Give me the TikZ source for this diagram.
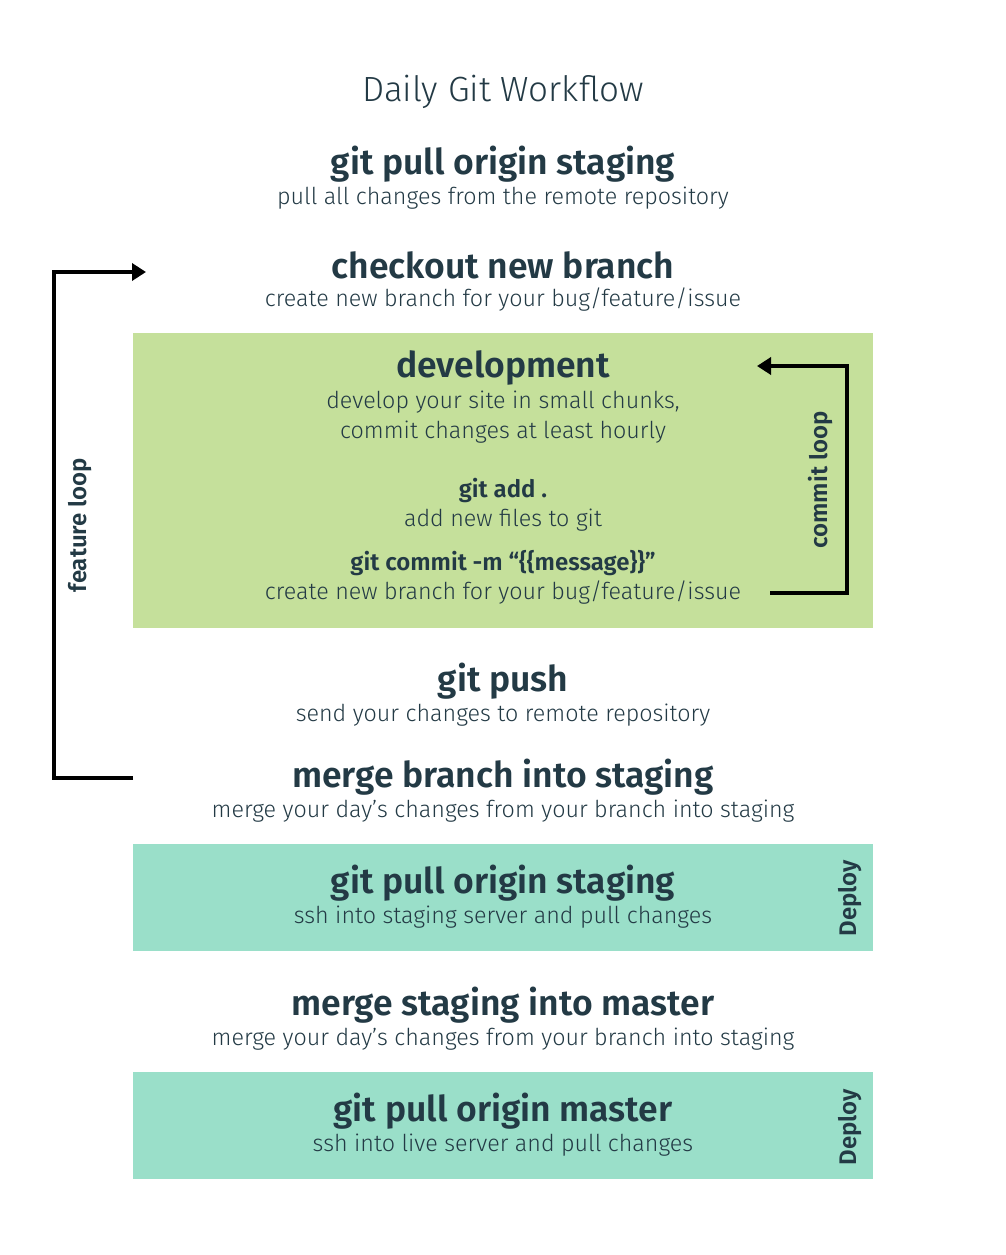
\documentclass[tikz,border=0pt]{standalone}
\usepackage{fontspec}
\setmainfont{Fira Sans}
\newfontfamily\lightf{Fira Sans Light}
\newfontfamily\boldf{Fira Sans SemiBold}
\usetikzlibrary{arrows.meta}
\definecolor{txt}{HTML}{233A45}
\definecolor{devgreen}{HTML}{C5E09B}
\definecolor{deployteal}{HTML}{9ADFC9}
\tikzset{
  head/.style={font=\boldf\fontsize{35.5}{38}\selectfont, text=txt, inner sep=0pt, anchor=center, yshift=-2pt},
  sub/.style={font=\lightf\fontsize{23.3}{26}\selectfont, text=txt, inner sep=0pt, anchor=center, yshift=-2pt},
  cmd/.style={font=\boldf\fontsize{24}{26}\selectfont, text=txt, inner sep=0pt, anchor=center, yshift=-2pt},
  side/.style={font=\boldf\fontsize{24}{26}\selectfont, text=txt, inner sep=0pt, rotate=90, anchor=center},
  looparrow/.style={line width=4pt, draw=black, -{Triangle[length=14pt,width=17pt]}},
}
\begin{document}
\begin{tikzpicture}[x=1pt,y=-1pt]
\useasboundingbox[fill=white] (0,0) rectangle (1006,1255);
% boxes
\fill[devgreen] (133,333) rectangle (873,628);
\fill[deployteal] (133,844) rectangle (873,951);
\fill[deployteal] (133,1072) rectangle (873,1179);
% title
\node[font=\lightf\fontsize{35}{40}\selectfont, text=txt, inner sep=0pt, yshift=-2pt] (title) at (503,90) {Daily Git Workflow};
% steps
\node[head] (pull1) at (503,162) {git pull origin staging};
\node[sub] (pull1s) at (503,196) {pull all changes from the remote repository};
\node[head] (checkout) at (503,263) {checkout new branch};
\node[sub] (checkouts) at (503,298) {create new branch for your bug/feature/issue};
\node[head] (dev) at (503,366) {development};
\node[sub] (devs1) at (503,400) {develop your site in small chunks,};
\node[sub] (devs2) at (503,430) {commit changes at least hourly};
\node[cmd] (add) at (503,488) {git add .};
\node[sub] (adds) at (503,518) {add new files to git};
\node[cmd] (commit) at (503,561) {git commit -m “\{\{message\}\}”};
\node[sub] (commits) at (503,591) {create new branch for your bug/feature/issue};
\node[head] (push) at (503,679) {git push};
\node[sub] (pushs) at (503,713) {send your changes to remote repository};
\node[head] (merge1) at (503,775) {merge branch into staging};
\node[sub] (merge1s) at (503,809) {merge your day’s changes from your branch into staging};
\node[head] (pull2) at (503,881) {git pull origin staging};
\node[sub] (pull2s) at (503,915) {ssh into staging server and pull changes};
\node[side] (deploy1) at (850,898) {Deploy};
\node[head] (merge2) at (503,1003) {merge staging into master};
\node[sub] (merge2s) at (503,1037) {merge your day’s changes from your branch into staging};
\node[head] (pull3) at (503,1109) {git pull origin master};
\node[sub] (pull3s) at (503,1143) {ssh into live server and pull changes};
\node[side] (deploy2) at (850,1127) {Deploy};
% commit loop
\coordinate (cstart) at (770,593);
\coordinate (cend) at (757,366);
\draw[looparrow] (cstart) -- (847,593) -- (847,366) -- (cend);
\node[side] (commitlbl) at (820,480) {commit loop};
% feature loop
\coordinate (fstart) at (133,778);
\coordinate (fend) at (146,272);
\draw[looparrow] (fstart) -- (54,778) -- (54,272) -- (fend);
\node[side] (featurelbl) at (80,525) {feature loop};
\end{tikzpicture}
\end{document}
